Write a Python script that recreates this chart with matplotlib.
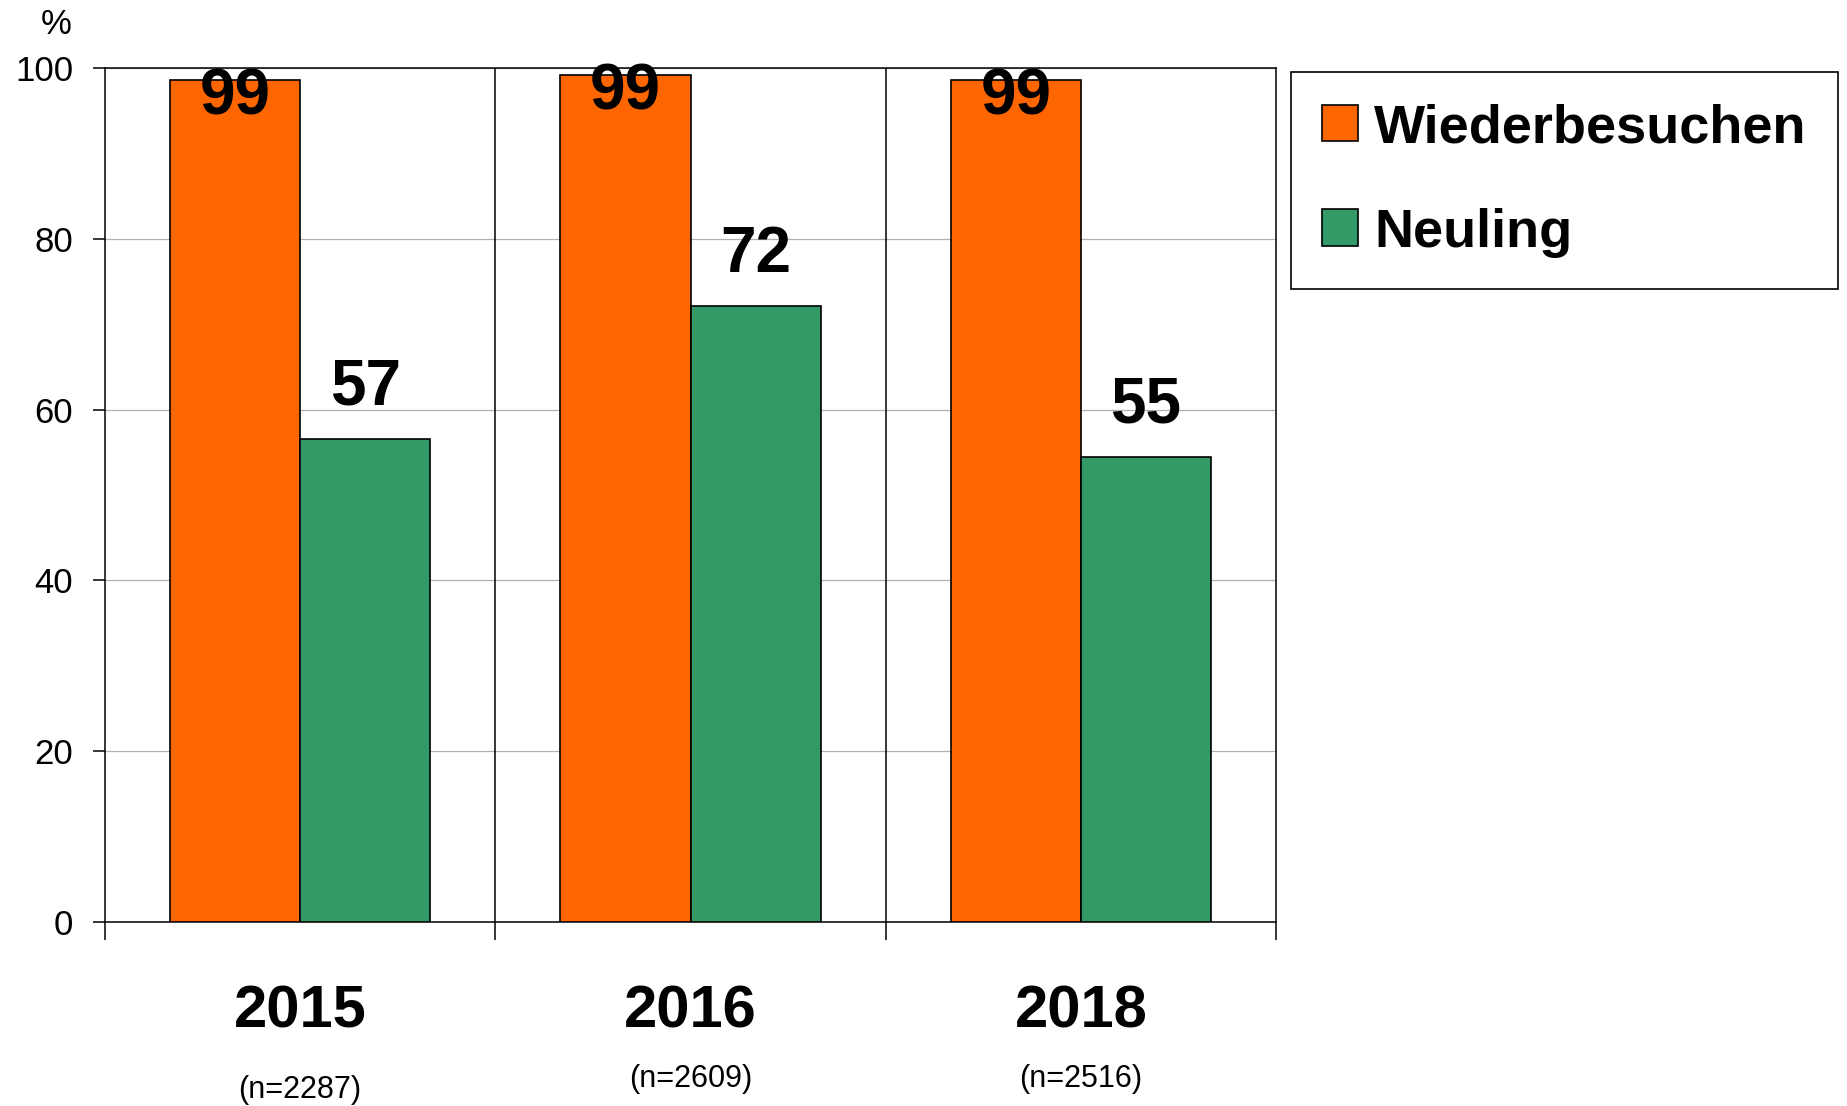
import numpy as np
import matplotlib
matplotlib.use("Agg")
import matplotlib.pyplot as plt
from matplotlib.patches import Patch

plt.rcParams['font.family'] = ['Liberation Sans', 'DejaVu Sans']

# data
years = ["2015", "2016", "2018"]
sample_sizes = ["(n=2287)", "(n=2609)", "(n=2516)"]
wiederbesuchen = [98.6, 99.2, 98.6]
neuling = [56.6, 72.1, 54.5]
wieder_labels = ["99", "99", "99"]
neuling_labels = ["57", "72", "55"]
series_names = ["Wiederbesuchen", "Neuling"]

orange = "#FF6600"
green = "#339966"

W, H = 1847, 1106
fig = plt.figure(figsize=(W / 100, H / 100), dpi=100)
ax = fig.add_axes([105 / W, 1 - 922 / H, (1276 - 105) / W, (922 - 68) / H])

x = np.arange(len(years))
bw = 1 / 3
ax.bar(x - bw / 2, wiederbesuchen, bw, color=orange, edgecolor="black", linewidth=1.2, zorder=3)
ax.bar(x + bw / 2, neuling, bw, color=green, edgecolor="black", linewidth=1.2, zorder=3)

for i in range(len(years)):
    ax.annotate(wieder_labels[i], (x[i] - bw / 2, wiederbesuchen[i]), xytext=(0, -12.5),
                textcoords="offset points", ha="center", va="center",
                fontsize=46, fontweight="bold", zorder=5)
    ax.annotate(neuling_labels[i], (x[i] + bw / 2, neuling[i]), xytext=(0, 37),
                textcoords="offset points", ha="center", va="center",
                fontsize=46, fontweight="bold", zorder=5)

ax.set_xlim(-0.5, len(years) - 0.5)
ax.set_ylim(0, 100)
ax.set_yticks([0, 20, 40, 60, 80, 100])
ax.yaxis.grid(True, color="#b0b0b0", linewidth=0.9, zorder=0)
ax.set_xticks(np.arange(len(years) + 1) - 0.5)
ax.set_xticklabels([])
ax.tick_params(axis="x", length=13, width=1.1, direction="out")
ax.tick_params(axis="y", length=9, width=1.1, direction="out", labelsize=25, pad=14)
for b in np.arange(1, len(years)) - 0.5:
    ax.axvline(b, color="black", linewidth=1.1, zorder=2)
for s in ax.spines.values():
    s.set_linewidth(1.1)
    s.set_color("black")

# year labels and sample sizes below the axis
px = 100 / 854  # data units per pixel
n_y = [1090, 1079, 1079]
for i in range(len(years)):
    ax.text(x[i], -(1012 - 922) * px, years[i], ha="center", va="center",
            fontsize=43, fontweight="bold", clip_on=False)
    ax.text(x[i], -(n_y[i] - 922) * px, sample_sizes[i], ha="center", va="center",
            fontsize=22, clip_on=False)

fig.text(72 / W, 1 - 25 / H, "%", ha="right", va="center", fontsize=25)

handles = [Patch(facecolor=orange, edgecolor="black", linewidth=1.2),
           Patch(facecolor=green, edgecolor="black", linewidth=1.2)]
leg = fig.legend(handles, series_names, loc="upper left",
                 bbox_to_anchor=(1291 / W, 1 - 72 / H),
                 prop={"size": 39, "weight": "bold"},
                 handlelength=0.65, handleheight=0.65, handletextpad=0.3,
                 labelspacing=1.0, borderpad=0.58, fancybox=False,
                 edgecolor="black", framealpha=1, borderaxespad=0)
leg.get_frame().set_linewidth(1.2)

fig.savefig("out.png", dpi=100)
